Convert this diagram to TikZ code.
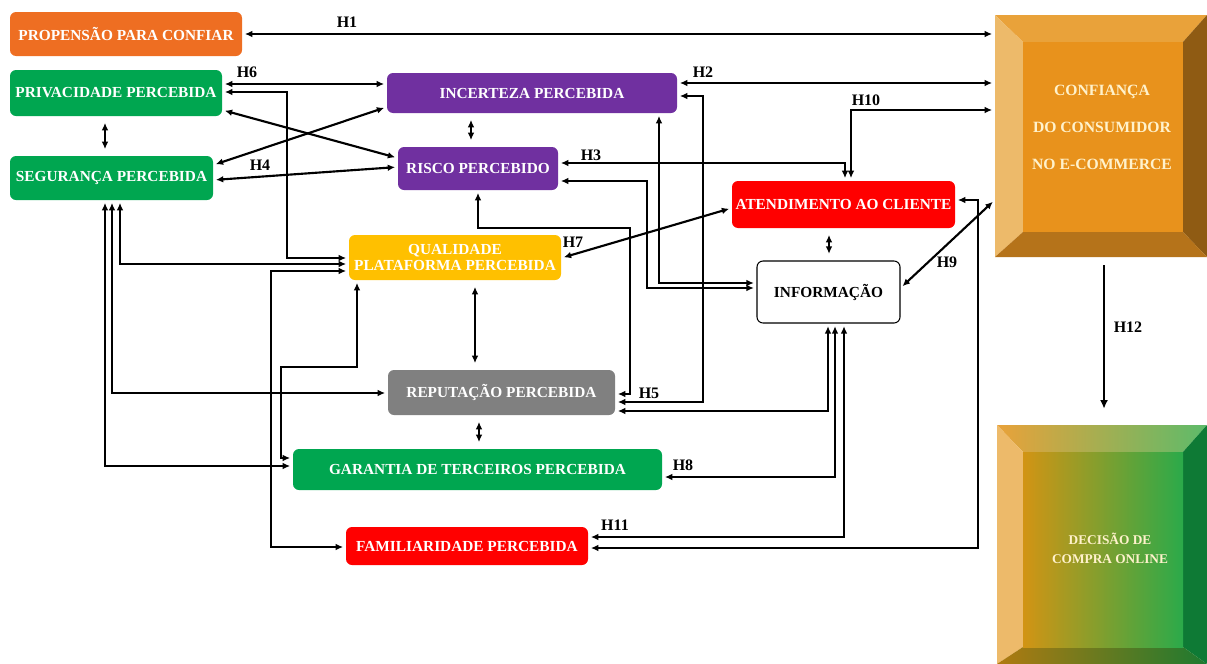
\documentclass[tikz,border=0pt]{standalone}
\usepackage{fontspec}
\setmainfont{Liberation Serif}
\usetikzlibrary{arrows.meta}
\newdimen\pxu \pxu=0.75pt
\definecolor{corange}{HTML}{EE6E22}
\definecolor{cgreen}{HTML}{00A650}
\definecolor{cpurple}{HTML}{7030A0}
\definecolor{camber}{HTML}{FFC000}
\definecolor{cred}{HTML}{FF0000}
\definecolor{cgray}{HTML}{808080}
\definecolor{ccream}{HTML}{FFF2CC}
\definecolor{bTop}{HTML}{E9A23A}
\definecolor{bLeft}{HTML}{EDBA6A}
\definecolor{bFace}{HTML}{E8921C}
\definecolor{bRight}{HTML}{8F5B13}
\definecolor{bBot}{HTML}{B5731A}
\definecolor{gFaceL}{HTML}{D29414}
\definecolor{gFaceR}{HTML}{2BAA4A}
\definecolor{gTopR}{HTML}{5DBB6A}
\definecolor{gRight}{HTML}{0E7A35}
\definecolor{gBotL}{HTML}{B07A10}
\definecolor{gBotR}{HTML}{1D7A30}
\tikzset{
  box/.style={rounded corners=4.5pt, font=\bfseries\fontsize{11.5}{12}\selectfont, text=white, inner sep=0pt, align=center},
  lab/.style={font=\bfseries\fontsize{12}{13}\selectfont, inner sep=0pt},
  ar/.style={line width=1.6pt, {Latex[length=5.5pt,width=5pt]}-{Latex[length=5.5pt,width=5pt]}, shorten <=2pt, shorten >=2pt},
  arv/.style={ar, shorten <=5pt, shorten >=5pt}
}
\begin{document}
\begin{tikzpicture}[x=0.75pt,y=-0.75pt]
\useasboundingbox (0,0) rectangle (1207,664);
% big bevel box: Confianca
\fill[bTop] (995,15) -- (1207,15) -- (1183,42) -- (1023,42) -- cycle;
\fill[bLeft] (995,15) -- (1023,42) -- (1023,232) -- (995,257) -- cycle;
\fill[bRight] (1207,15) -- (1207,257) -- (1183,232) -- (1183,42) -- cycle;
\fill[bBot] (995,257) -- (1207,257) -- (1183,232) -- (1023,232) -- cycle;
\fill[bFace] (1023,42) rectangle (1183,232);
\node[minimum width=212\pxu, minimum height=242\pxu, inner sep=0pt] (conf) at (1101,136) {};
\node[font=\bfseries\fontsize{11.75}{27.75}\selectfont, text=ccream, align=center, inner sep=0pt] (conftxt) at (1102,127) {CONFIANÇA\\DO CONSUMIDOR\\NO E-COMMERCE};
% big bevel box: Decisao
\shade[left color=bTop, right color=gTopR] (997,425) -- (1207,425) -- (1183,452) -- (1023,452) -- cycle;
\fill[bLeft] (997,425) -- (1023,452) -- (1023,647) -- (997,664) -- cycle;
\fill[gRight] (1207,425) -- (1207,664) -- (1183,647) -- (1183,452) -- cycle;
\shade[left color=gBotL, right color=gBotR] (997,664) -- (1207,664) -- (1183,647) -- (1023,647) -- cycle;
\shade[left color=gFaceL, right color=gFaceR] (1023,452) rectangle (1183,647);
\node[minimum width=210\pxu, minimum height=239\pxu, inner sep=0pt] (dec) at (1102,544.5) {};
\node[font=\bfseries\fontsize{10}{14.25}\selectfont, text=ccream, align=center, inner sep=0pt] (dectxt) at (1110,548) {DECISÃO DE\\COMPRA ONLINE};
% boxes
\node[box, fill=corange, minimum width=232\pxu, minimum height=44\pxu] (prop) at (126,34) {PROPENSÃO PARA CONFIAR};
\node[box, fill=cgreen, minimum width=212\pxu, minimum height=46\pxu] (priv) at (116,93) {PRIVACIDADE PERCEBIDA};
\node[box, fill=cgreen, minimum width=203\pxu, minimum height=44\pxu] (seg) at (111.5,178) {SEGURANÇA PERCEBIDA};
\node[box, fill=cpurple, minimum width=290\pxu, minimum height=40\pxu] (inc) at (532,93) {INCERTEZA PERCEBIDA};
\node[box, fill=cpurple, minimum width=160\pxu, minimum height=43\pxu] (risco) at (478,168.5) {RISCO PERCEBIDO};
\node[box, fill=camber, minimum width=212\pxu, minimum height=45\pxu, font=\bfseries\fontsize{11.5}{12.5}\selectfont] (qual) at (455,257.5) {QUALIDADE\\PLATAFORMA PERCEBIDA};
\node[box, fill=cred, minimum width=223\pxu, minimum height=47\pxu] (aten) at (843.5,204.5) {ATENDIMENTO AO CLIENTE};
\node[box, draw=black, line width=0.8pt, fill=white, text=black, minimum width=143\pxu, minimum height=62\pxu] (info) at (828.5,292) {INFORMAÇÃO};
\node[box, fill=cgray, minimum width=227\pxu, minimum height=45\pxu] (rep) at (501.5,392.5) {REPUTAÇÃO PERCEBIDA};
\node[box, fill=cgreen, minimum width=369\pxu, minimum height=41\pxu] (gar) at (477.5,469.5) {GARANTIA DE TERCEIROS PERCEBIDA};
\node[box, fill=cred, minimum width=242\pxu, minimum height=38\pxu] (fam) at (467,546) {FAMILIARIDADE PERCEBIDA};
% connectors
\draw[ar] (prop.east) -- (prop.east -| conf.west);
\draw[ar] (priv.east |- 0,84) -- (inc.west |- 0,84);
\draw[ar] (priv.east |- 0,92) -| (287,258) -- (qual.west |- 0,258);
\draw[ar] (priv.east |- 0,110) -- (risco.west |- 0,158);
\draw[ar] (seg.east |- 0,165) -- (inc.west |- 0,107);
\draw[ar] (seg.east |- 0,180) -- (risco.west |- 0,167);
\draw[arv] (priv.south -| 105,0) -- (seg.north -| 105,0);
\draw[arv] (inc.south -| 471,0) -- (risco.north -| 471,0);
\draw[ar] (inc.east |- 0,83) -- (conf.west |- 0,83);
\draw[ar] (inc.east |- 0,96) -| (703,402) -- (rep.east |- 0,402);
\draw[ar] (risco.south) |- (630,228) |- (rep.east |- 0,394);
\draw[ar] (info.south -| 828,0) |- (rep.east |- 0,411);
\draw[ar] (info.south -| 835,0) |- (gar.east |- 0,477);
\draw[ar] (info.south -| 844,0) |- (fam.east |- 0,537);
\draw[ar] (aten.east |- 0,200) -| (978,548) -- (fam.east |- 0,548);
\draw[ar] (risco.east |- 0,163) -| (aten.north -| 845,0);
\draw[ar] (conf.west |- 0,110) -| (aten.north -| 851,0);
\draw[ar] (qual.east |- 0,258) -- (aten.west |- 0,208);
\draw[arv] (aten.south -| 829,0) -- (info.north -| 829,0);
\draw[ar] (info.east |- 0,288) -- (conf.west |- 0,200);
\draw[line width=1.6pt, -{Latex[length=6.5pt,width=6pt]}, shorten <=6pt, shorten >=12pt] (conf.south -| 1104,0) -- (dec.north -| 1104,0);
\draw[ar] (inc.south -| 659,0) |- (info.west |- 0,283);
\draw[ar] (risco.east |- 0,181) -| (647,288) -- (info.west |- 0,288);
\draw[ar] (seg.south -| 120,0) |- (qual.west |- 0,264);
\draw[ar] (seg.south -| 112,0) |- (rep.west |- 0,393);
\draw[ar] (seg.south -| 105,0) |- (gar.west |- 0,466);
\draw[ar] (qual.south -| 357,0) |- (281,367) |- (gar.west |- 0,458);
\draw[ar] (qual.west |- 0,271) -| (271,547) -- (fam.west |- 0,547);
\draw[arv] (qual.south -| 475,0) -- (rep.north -| 475,0);
\draw[arv] (rep.south -| 479,0) -- (gar.north -| 479,0);
% labels
\node[lab] (h1) at (347,22) {H1};
\node[lab] (h6) at (247,72) {H6};
\node[lab] (h4) at (260,165) {H4};
\node[lab] (h2) at (703,72) {H2};
\node[lab] (h10) at (866,100) {H10};
\node[lab] (h3) at (591,155) {H3};
\node[lab] (h7) at (573,242) {H7};
\node[lab] (h9) at (947,262) {H9};
\node[lab] (h5) at (649,393) {H5};
\node[lab] (h8) at (683,465) {H8};
\node[lab] (h11) at (615,525) {H11};
\node[lab] (h12) at (1128,327) {H12};
\end{tikzpicture}
\end{document}
